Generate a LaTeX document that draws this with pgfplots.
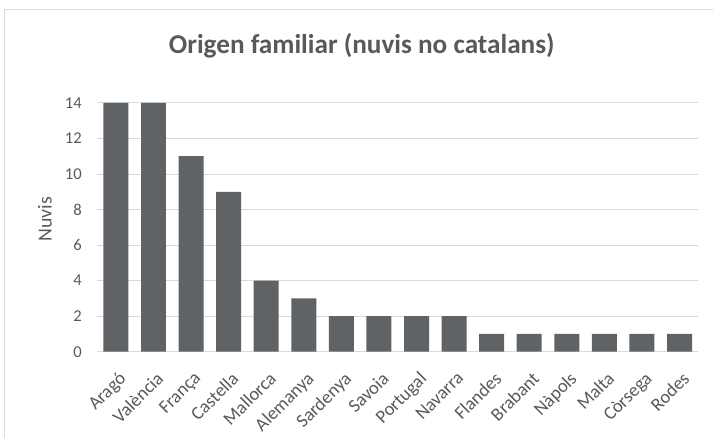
\documentclass[border=0pt]{standalone}
\usepackage{pgfplots}
\pgfplotsset{compat=1.18}
\usepackage{fontspec}
\setmainfont{Carlito}
\definecolor{bar}{HTML}{606366}
\definecolor{txt}{HTML}{595959}
\definecolor{grid}{HTML}{D9D9D9}
\begin{document}
\begin{tikzpicture}[x=0.75bp,y=0.75bp]
\path (0,0) rectangle (713,438);
\draw[grid, line width=0.75bp] (5,0) -- (5,428) -- (713,428);
\node[txt, font=\fontsize{20.5}{24}\selectfont\bfseries] at (362,392) {Origen familiar (nuvis no catalans)};
\begin{axis}[
  at={(97.2bp*0.75,86bp*0.75)}, anchor=south west,
  scale only axis, width=601.6bp*0.75, height=249bp*0.75,
  ymin=0, ymax=14, ytick={0,2,...,14},
  xmin=-0.5, xmax=15.5,
  xtick={0,...,15},
  xticklabels={Aragó,València,França,Castella,Mallorca,Alemanya,Sardenya,Savoia,Portugal,Navarra,Flandes,Brabant,Nàpols,Malta,Còrsega,Rodes},
  x tick label style={rotate=45, anchor=north east, font=\fontsize{14}{16}\selectfont, txt, inner sep=0pt, xshift=1bp, yshift=-1bp},
  xticklabel shift=14bp,
  y tick label style={font=\fontsize{12.5}{14}\selectfont, txt},
  /pgf/number format/assume math mode=true,
  ymajorgrids, xmajorgrids=false, y grid style={grid, line width=0.75bp},
  axis x line*=bottom, axis y line*=left,
  x axis line style={grid, line width=0.75bp, -},
  y axis line style={draw=none},
  major tick length=0pt,
  ylabel={Nuvis}, ylabel style={txt, font=\fontsize{15}{18}\selectfont, yshift=3bp, xshift=6bp},
  yticklabel style={xshift=-8bp},
  clip=false,
]
\addplot[ybar, bar width=25bp*0.75, fill=bar, draw=none] table[x=i, y=v] {
i v
0 14
1 14
2 11
3 9
4 4
5 3
6 2
7 2
8 2
9 2
10 1
11 1
12 1
13 1
14 1
15 1
};
\end{axis}
\end{tikzpicture}
\end{document}
